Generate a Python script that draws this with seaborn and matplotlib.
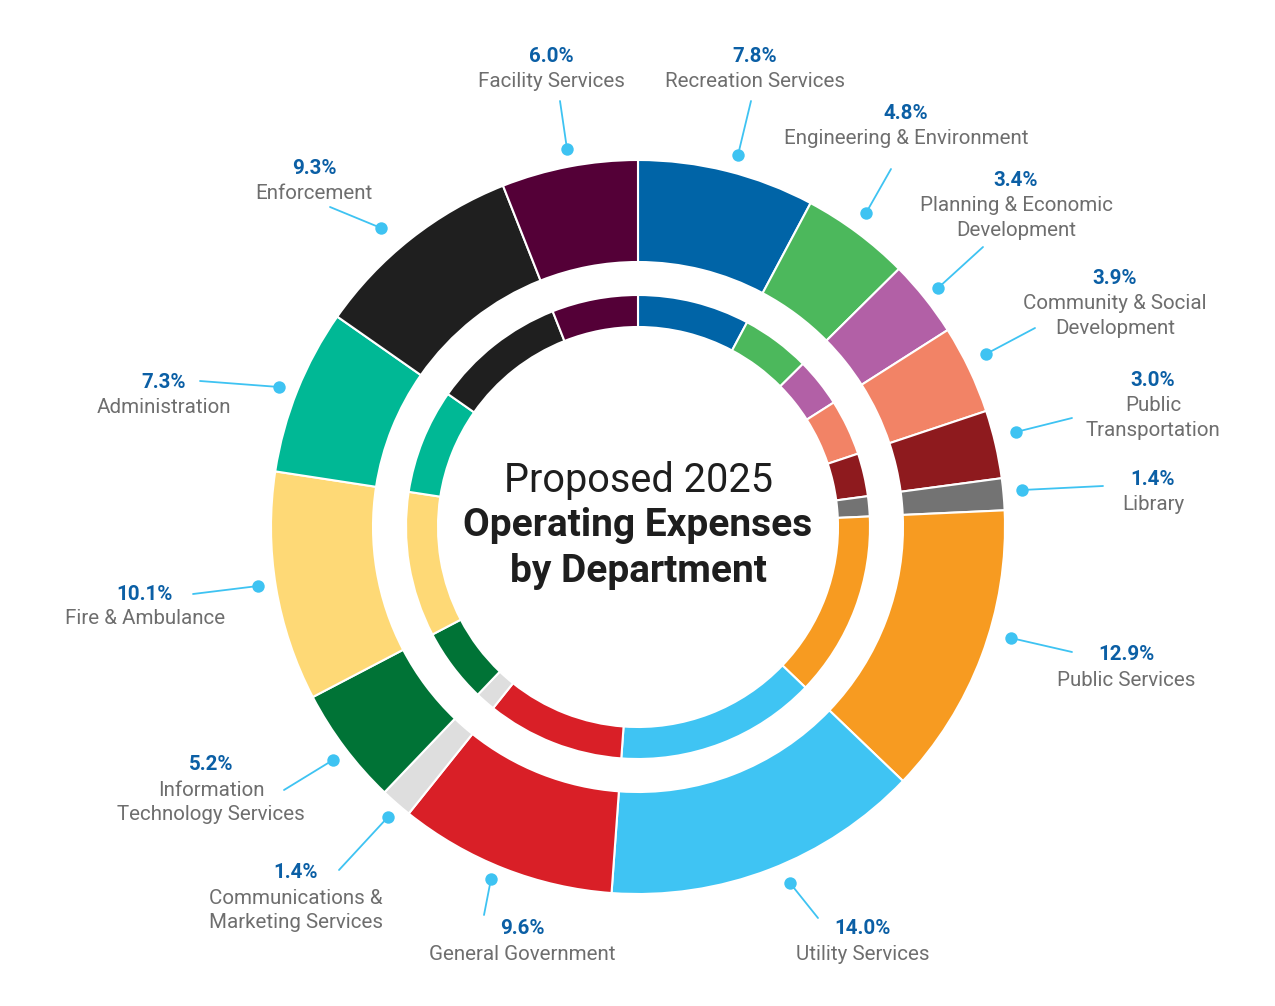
import numpy as np
import matplotlib.pyplot as plt
import seaborn as sns

# department shares (clockwise from 12 o'clock)
departments = [
    "Recreation Services", "Engineering & Environment", "Planning & Economic\nDevelopment",
    "Community & Social\nDevelopment", "Public\nTransportation", "Library",
    "Public Services", "Utility Services", "General Government",
    "Communications &\nMarketing Services", "Information\nTechnology Services",
    "Fire & Ambulance", "Administration", "Enforcement", "Facility Services",
]
shares = [7.8, 4.8, 3.4, 3.9, 3.0, 1.4, 12.9, 14.0, 9.6, 1.4, 5.2, 10.1, 7.3, 9.3, 6.0]
colors = [
    "#0064a7", "#4cb85c", "#b260a6", "#f28366", "#8e1a1e", "#737373",
    "#f79b21", "#3fc4f3", "#d91f27", "#dedede", "#007336",
    "#fed976", "#00b895", "#1f1f1f", "#540037",
]

# label layout in pixel coords:
# (text centre x, pct y, leader end x, leader end y, dot x, dot y)
label_pos = [
    (755, 56, 751, 101, 738, 155), (906, 113, 891, 169, 866, 213),
    (1016, 180, 983, 247, 938, 288), (1115, 278, 1035, 328, 986, 354),
    (1153, 380, 1072, 418, 1016, 432), (1153, 479, 1103, 486, 1022, 490),
    (1126, 655, 1072, 652, 1011, 638), (863, 929, 818, 918, 790, 883),
    (522, 929, 484, 915, 491, 879), (296, 873, 339, 870, 388, 817),
    (211, 765, 284, 790, 333, 760), (145, 594, 193, 594, 258, 586),
    (164, 382, 200, 381, 279, 387), (314, 168, 330, 207, 381, 228),
    (551, 56, 560, 101, 567, 149),
]

W, H = 1275, 1006
CX, CY = 638, 527

sns.set_theme(style="white")
plt.rcParams["font.family"] = ["Roboto", "DejaVu Sans"]

fig = plt.figure(figsize=(W / 100, H / 100), dpi=100)
ax = fig.add_axes([0, 0, 1, 1])


def Y(y):
    return H - y


center = (CX, Y(CY))
ax.pie(shares, colors=colors, radius=367, center=center, startangle=90, counterclock=False,
       wedgeprops=dict(width=102, edgecolor="white", linewidth=1.5), frame=True)
ax.pie(shares, colors=colors, radius=232, center=center, startangle=90, counterclock=False,
       wedgeprops=dict(width=32, edgecolor="white", linewidth=1.5), frame=True)
ax.set_xlim(0, W)
ax.set_ylim(0, H)
ax.set_aspect("equal")
ax.axis("off")

pct_color = "#0b5fa5"
name_color = "#6e6e6e"
line_color = "#3ec3f2"

for name, val, (tx, ty, lx, ly, px, py) in zip(departments, shares, label_pos):
    ax.plot([px, lx], [Y(py), Y(ly)], color=line_color, lw=1.3, zorder=3)
    ax.scatter([px], [Y(py)], s=80, color=line_color, zorder=4, linewidths=0)
    ax.text(tx, Y(ty), f"{val:.1f}%", ha="center", va="center", fontsize=14.8,
            fontweight="bold", color=pct_color)
    for i, line in enumerate(name.split("\n")):
        ax.text(tx, Y(ty + 25 * (i + 1)), line, ha="center", va="center", fontsize=14.8,
                color=name_color)

ax.text(CX, Y(480), "Proposed 2025", ha="center", va="center", fontsize=28.5,
        color="#1e1e1e")
ax.text(CX, Y(526), "Operating Expenses", ha="center", va="center", fontsize=28,
        color="#1e1e1e", fontweight="bold")
ax.text(CX, Y(572), "by Department", ha="center", va="center", fontsize=28,
        color="#1e1e1e", fontweight="bold")

fig.savefig("out.png", dpi=100, facecolor="white")
